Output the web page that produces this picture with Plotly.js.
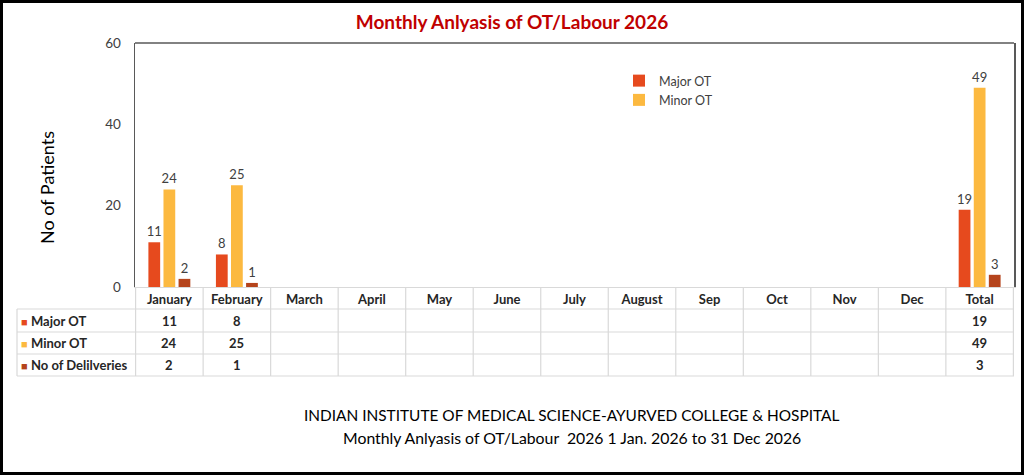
<!DOCTYPE html>
<html>
<head>
<meta charset="utf-8">
<script src="https://cdn.plot.ly/plotly-3.0.1.min.js"></script>
<style>
  html, body { margin: 0; padding: 0; background: #fff; }
  #wrap { position: relative; width: 1024px; height: 475px; }
  #chart { width: 1024px; height: 475px; }
  #frame { position: absolute; left: 0; top: 0; width: 1024px; height: 475px; box-sizing: border-box; border: 3px solid #000; pointer-events: none; }
</style>
</head>
<body>
<div id="wrap"><div id="chart"></div><div id="frame"></div></div>
<script>
// ---- data ----
const categories = ['January','February','March','April','May','June','July','August','Sep','Oct','Nov','Dec','Total'];
const majorOT    = [11, 8, null, null, null, null, null, null, null, null, null, null, 19];
const minorOT    = [24, 25, null, null, null, null, null, null, null, null, null, null, 49];
const deliveries = [2, 1, null, null, null, null, null, null, null, null, null, null, 3];
const seriesNames = ['Major OT', 'Minor OT', 'No of Delilveries'];
const yTickVals = [0, 20, 40, 60];
const chartTitle = 'Monthly Anlyasis of OT/Labour 2026';
const yTitle = 'No of Patients';
const footer1 = 'INDIAN INSTITUTE OF MEDICAL SCIENCE-AYURVED COLLEGE &amp; HOSPITAL';
const footer2 = 'Monthly Anlyasis of OT/Labour  2026 1 Jan. 2026 to 31 Dec 2026';

// ---- styling ----
const colors = ['#E64A1E', '#FCB940', '#B5441C'];
const FONT = 'Lato, "Open Sans", sans-serif';
const W = 1024, H = 475;
const M = {l: 135, r: 10, t: 43, b: 188};
const plotH = H - M.t - M.b;
const plotW = W - M.l - M.r;
const py = px => (H - M.b - px) / plotH;     // pixel row -> paper y
const pxX = px => (px - M.l) / plotW;        // pixel col -> paper x

const seriesData = [majorOT, minorOT, deliveries];
const traces = seriesData.map((vals, k) => ({
  type: 'bar',
  name: seriesNames[k],
  x: categories,
  y: vals,
  marker: {color: colors[k]},
  text: vals.map(v => v == null ? '' : String(v)),
  textposition: 'outside',
  constraintext: 'none',
  textfont: {size: 13, color: '#404040', family: FONT},
  cliponaxis: false,
  showlegend: k < 2,
  hoverinfo: 'x+y+name'
}));

// table rows (pixel rows)
const rowLines = [309, 332, 354, 376];
const shapes = [];
const annotations = [];
const gridColor = '#d9d9d9';
rowLines.forEach(r => shapes.push({type: 'line', xref: 'paper', yref: 'paper',
  x0: pxX(17), x1: 1, y0: py(r), y1: py(r), line: {color: gridColor, width: 1.2}}));
for (let i = 0; i <= categories.length; i++) {
  shapes.push({type: 'line', xref: 'x', yref: 'paper', x0: i - 0.5, x1: i - 0.5,
    y0: py(287), y1: py(376), line: {color: gridColor, width: 1.2}});
}
shapes.push({type: 'line', xref: 'paper', yref: 'paper', x0: pxX(17), x1: pxX(17),
  y0: py(309), y1: py(376), line: {color: gridColor, width: 1.2}});
shapes.push({type: 'line', xref: 'paper', yref: 'paper', x0: 0, x1: 1, y0: 1, y1: 1,
  line: {color: '#595959', width: 1.5}});

seriesData.forEach((vals, k) => {
  const yc = py((rowLines[k] + rowLines[k + 1]) / 2);
  annotations.push({xref: 'paper', yref: 'paper', x: pxX(19), y: yc, xanchor: 'left', yanchor: 'middle',
    showarrow: false, text: '<span style="color:' + colors[k] + ';font-size:11px">■</span> <b>' + seriesNames[k] + '</b>',
    font: {size: 13, color: '#262626', family: FONT}});
  vals.forEach((v, i) => {
    if (v == null) return;
    annotations.push({xref: 'x', yref: 'paper', x: categories[i], y: yc, xanchor: 'center', yanchor: 'middle',
      showarrow: false, text: '<b>' + v + '</b>', font: {size: 13, color: '#262626', family: FONT}});
  });
});

// y-axis title
annotations.push({xref: 'paper', yref: 'paper', x: pxX(47), y: py(188), xanchor: 'center', yanchor: 'middle',
  textangle: -90, showarrow: false, text: yTitle, font: {size: 18, color: '#000', family: FONT}});

// footer text
annotations.push({xref: 'paper', yref: 'paper', x: pxX(571), y: py(415), xanchor: 'center', yanchor: 'middle',
  showarrow: false, text: footer1, font: {size: 15.4, color: '#000', family: FONT}});
annotations.push({xref: 'paper', yref: 'paper', x: pxX(572), y: py(437), xanchor: 'center', yanchor: 'middle',
  showarrow: false, text: footer2, font: {size: 15.8, color: '#000', family: FONT}});

const layout = {
  width: W, height: H,
  margin: M,
  paper_bgcolor: '#fff', plot_bgcolor: '#fff',
  font: {family: FONT, color: '#404040'},
  title: {text: '<b>' + chartTitle + '</b>', font: {size: 19, color: '#C00000', family: FONT},
    x: 0.5, xref: 'container', xanchor: 'center', y: 1 - 22 / H, yref: 'container', yanchor: 'middle'},
  barmode: 'group', bargap: 0.33, bargroupgap: 0.22,
  xaxis: {
    type: 'category', showgrid: false, zeroline: false,
    showline: true, linecolor: gridColor, linewidth: 1.2,
    ticks: '', tickfont: {size: 13, color: '#262626', family: FONT},
    tickprefix: '<b>', ticksuffix: '</b>', fixedrange: true
  },
  yaxis: {
    range: [0, 60], tickvals: yTickVals, showgrid: false, zeroline: false,
    showline: true, mirror: true, linecolor: '#595959', linewidth: 1.5,
    ticks: '', ticklabelstandoff: 10, tickfont: {size: 13.5, color: '#404040', family: FONT},
    fixedrange: true
  },
  legend: {x: pxX(619), y: py(66), xanchor: 'left', yanchor: 'top', traceorder: 'normal',
    font: {size: 12.5, color: '#404040', family: FONT}, bgcolor: 'rgba(0,0,0,0)'},
  shapes: shapes,
  annotations: annotations
};

Plotly.newPlot('chart', traces, layout, {displayModeBar: false, staticPlot: true});
</script>
</body>
</html>
